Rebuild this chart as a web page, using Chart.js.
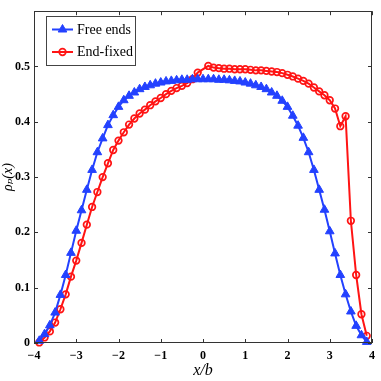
<!DOCTYPE html>
<html><head><meta charset="utf-8">
<script src="https://cdn.jsdelivr.net/npm/chart.js@4/dist/chart.umd.min.js"></script>
<style>html,body{margin:0;padding:0;background:#fff}</style>
</head><body>
<canvas id="c" width="381" height="381"></canvas>
<script>
const xValues = [-3.875,-3.75,-3.625,-3.5,-3.375,-3.25,-3.125,-3.0,-2.875,-2.75,-2.625,-2.5,-2.375,-2.25,-2.125,-2.0,-1.875,-1.75,-1.625,-1.5,-1.375,-1.25,-1.125,-1.0,-0.875,-0.75,-0.625,-0.5,-0.375,-0.25,-0.125,0,0.125,0.25,0.375,0.5,0.625,0.75,0.875,1.0,1.125,1.25,1.375,1.5,1.625,1.75,1.875,2.0,2.125,2.25,2.375,2.5,2.625,2.75,2.875,3.0,3.125,3.25,3.375,3.5,3.625,3.75,3.875];
const freeEnds = [0.004,0.016,0.032,0.055,0.087,0.123,0.163,0.203,0.240,0.277,0.313,0.345,0.370,0.394,0.412,0.427,0.439,0.447,0.453,0.459,0.463,0.466,0.469,0.471,0.473,0.474,0.475,0.476,0.476,0.477,0.477,0.477,0.477,0.477,0.476,0.476,0.475,0.474,0.473,0.471,0.469,0.466,0.463,0.459,0.453,0.447,0.438,0.427,0.411,0.393,0.371,0.345,0.313,0.277,0.241,0.202,0.162,0.123,0.088,0.057,0.031,0.014,0.002];
const xFixed = [-3.875,-3.75,-3.625,-3.5,-3.375,-3.25,-3.125,-3.0,-2.875,-2.75,-2.625,-2.5,-2.375,-2.25,-2.125,-2.0,-1.875,-1.75,-1.625,-1.5,-1.375,-1.25,-1.125,-1.0,-0.875,-0.75,-0.625,-0.5,-0.375,-0.25,-0.125,0.125,0.25,0.375,0.5,0.625,0.75,0.875,1.0,1.125,1.25,1.375,1.5,1.625,1.75,1.875,2.0,2.125,2.25,2.375,2.5,2.625,2.75,2.875,3.0,3.125,3.25,3.375,3.5,3.625,3.75,3.875];
const endFixed = [0.001,0.010,0.021,0.037,0.061,0.088,0.120,0.149,0.181,0.214,0.246,0.273,0.300,0.325,0.349,0.366,0.381,0.395,0.406,0.415,0.422,0.430,0.437,0.443,0.450,0.456,0.461,0.465,0.470,0.477,0.489,0.501,0.498,0.497,0.496,0.496,0.495,0.495,0.495,0.494,0.493,0.493,0.492,0.491,0.490,0.488,0.485,0.482,0.478,0.474,0.469,0.462,0.455,0.448,0.439,0.424,0.392,0.410,0.221,0.123,0.052,0.013];
const seriesNames = ['Free ends','End-fixed'];
const xTickValues = [-4,-3,-2,-1,0,1,2,3,4];
const xTickLabels = ['\u22124','\u22123','\u22122','\u22121','0','1','2','3','4'];
const yTickValues = [0,0.1,0.2,0.3,0.4,0.5,0.6];
const yTickLabels = ['0','0.1','0.2','0.3','0.4','0.5',''];

const BLUE = 'rgb(35,65,255)';
const RED = 'rgb(255,20,20)';
const SERIF = "'Liberation Serif','DejaVu Serif',serif";

function lbl(vals, labels, v){
  for (let i=0;i<vals.length;i++) if (Math.abs(vals[i]-v)<1e-9) return labels[i];
  return '';
}

const framePlugin = {
  id:'frame',
  afterDraw(chart){
    const {ctx, chartArea:a, scales:{x,y}} = chart;
    ctx.save();
    ctx.strokeStyle = '#333';
    ctx.lineWidth = 1;
    ctx.strokeRect(Math.round(a.left)+0.5, Math.round(a.top)+0.5, Math.round(a.right-a.left)-1, Math.round(a.bottom-a.top)-1);
    ctx.beginPath();
    const L=4;
    xTickValues.forEach(v=>{
      const px = Math.round(x.getPixelForValue(v))+0.5;
      ctx.moveTo(px,a.bottom); ctx.lineTo(px,a.bottom-L);
      ctx.moveTo(px,a.top); ctx.lineTo(px,a.top+L);
    });
    yTickValues.forEach(v=>{
      const py = Math.round(y.getPixelForValue(v))+0.5;
      ctx.moveTo(a.left,py); ctx.lineTo(a.left+L,py);
      ctx.moveTo(a.right,py); ctx.lineTo(a.right-L,py);
    });
    ctx.stroke();
    // legend
    const bx=46.5, by=16.5, bw=89, bh=49;
    ctx.fillStyle='#fff';
    ctx.fillRect(bx,by,bw,bh);
    ctx.strokeStyle='#444';
    ctx.strokeRect(bx,by,bw,bh);
    const rows=[29.5,52];
    chart.data.datasets.forEach((ds,i)=>{
      const yy=rows[i];
      ctx.strokeStyle=ds.borderColor; ctx.lineWidth=ds.borderWidth;
      ctx.beginPath(); ctx.moveTo(52,yy); ctx.lineTo(73,yy); ctx.stroke();
      ctx.fillStyle=ds.pointBackgroundColor; ctx.strokeStyle=ds.pointBorderColor; ctx.lineWidth=ds.pointBorderWidth;
      Chart.helpers.drawPoint(ctx,{pointStyle:ds.pointStyle,radius:ds.pointRadius,borderWidth:ds.pointBorderWidth,rotation:0},62.5,yy);
      ctx.fillStyle='#000';
      ctx.font='14px '+SERIF;
      ctx.textBaseline='middle';
      ctx.textAlign='left';
      ctx.fillText(ds.label,77,yy+0.5);
    });
    ctx.restore();
  }
};

new Chart(document.getElementById('c'),{
  type:'line',
  data:{
    datasets:[
      {label:seriesNames[0], data:xValues.map((v,i)=>({x:v,y:freeEnds[i]})),
       borderColor:BLUE, backgroundColor:BLUE, borderWidth:2, pointStyle:'triangle', pointRadius:5,
       pointBackgroundColor:BLUE, pointBorderColor:BLUE, pointBorderWidth:1, clip:false, tension:0},
      {label:seriesNames[1], data:xFixed.map((v,i)=>({x:v,y:endFixed[i]})),
       borderColor:RED, backgroundColor:'rgba(0,0,0,0)', borderWidth:2, pointStyle:'circle', pointRadius:3.3,
       pointBackgroundColor:'rgba(0,0,0,0)', pointBorderColor:RED, pointBorderWidth:1.7, clip:false, tension:0}
    ]
  },
  options:{
    responsive:false, animation:false, devicePixelRatio:1,
    layout:{padding:{top:11,right:5,left:0,bottom:0}},
    plugins:{legend:{display:false},tooltip:{enabled:false}},
    scales:{
      x:{type:'linear',min:-4,max:4,
         afterBuildTicks(s){s.ticks=xTickValues.map(v=>({value:v}));},
         afterFit(s){s.height=38;},
         grid:{display:false,drawTicks:false}, border:{display:false},
         ticks:{color:'#000',font:{family:SERIF,size:12,weight:'bold'},padding:6,maxRotation:0,autoSkip:false,
                callback:(v)=>lbl(xTickValues,xTickLabels,v)},
         title:{display:true,text:'x/b',color:'#000',font:{family:SERIF,size:16,style:'italic'},padding:{top:0,bottom:1}}},
      y:{min:0,max:0.6,
         afterBuildTicks(s){s.ticks=yTickValues.map(v=>({value:v}));},
         afterFit(s){s.width=34;},
         grid:{display:false,drawTicks:false}, border:{display:false},
         ticks:{color:'#000',font:{family:SERIF,size:12,weight:'bold'},padding:4,autoSkip:false,
                callback:(v)=>lbl(yTickValues,yTickLabels,v)},
         title:{display:true,text:'\u03C1\u209A(x)',color:'#000',font:{family:SERIF,size:14,style:'italic'},padding:{top:0,bottom:0}}}
    }
  },
  plugins:[framePlugin]
});
</script>
</body></html>
